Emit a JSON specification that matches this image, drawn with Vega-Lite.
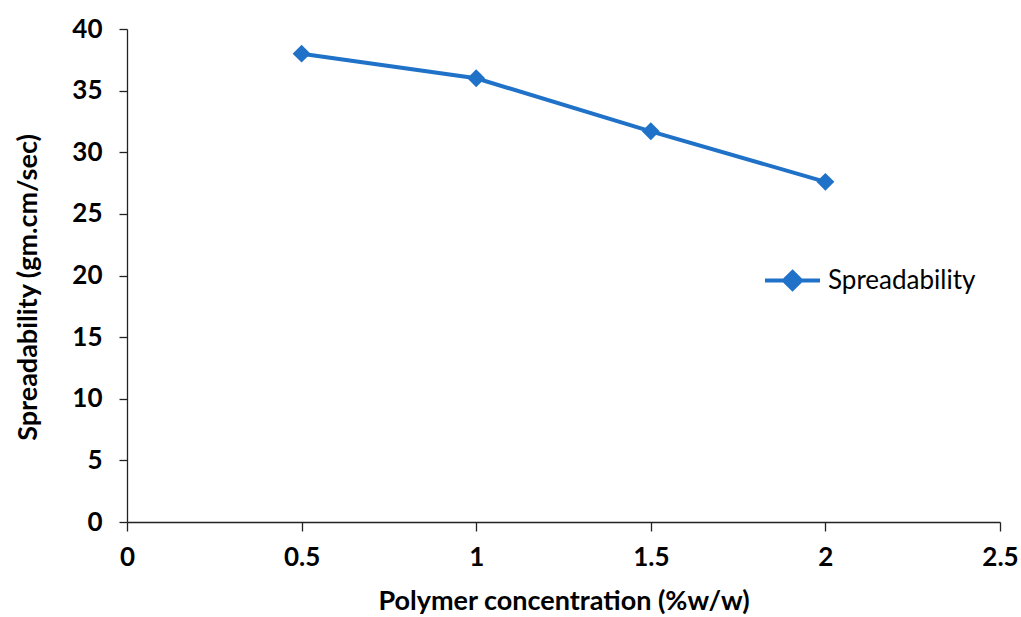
{
  "$schema": "https://vega.github.io/schema/vega-lite/v6.json",
  "width": 873,
  "height": 493,
  "autosize": {"type": "none"},
  "padding": {"left": 127, "top": 29, "right": 21, "bottom": 95},
  "background": "white",
  "config": {
    "view": {"stroke": null},
    "font": "Lato",
    "axis": {
      "grid": false,
      "domainColor": "#222222",
      "tickColor": "#222222",
      "domainWidth": 1.3,
      "tickWidth": 1.3,
      "labelFont": "Lato",
      "labelFontWeight": "bold",
      "labelFontSize": 26,
      "labelColor": "#000000",
      "titleFont": "Lato",
      "titleFontWeight": "bold",
      "titleFontSize": 27,
      "titleColor": "#000000"
    }
  },
  "data": {
    "values": [
      {"conc": 0.5, "spread": 38.0, "series": "Spreadability"},
      {"conc": 1.0, "spread": 36.0, "series": "Spreadability"},
      {"conc": 1.5, "spread": 31.7, "series": "Spreadability"},
      {"conc": 2.0, "spread": 27.6, "series": "Spreadability"}
    ]
  },
  "mark": {
    "type": "line",
    "strokeWidth": 4,
    "point": {"shape": "diamond", "size": 320, "filled": true, "opacity": 1}
  },
  "encoding": {
    "x": {
      "field": "conc",
      "type": "quantitative",
      "scale": {"domain": [0, 2.5], "nice": false},
      "axis": {
        "values": [0, 0.5, 1, 1.5, 2, 2.5],
        "format": "~g",
        "tickSize": 9,
        "labelPadding": 13,
        "titlePadding": 18,
        "labelFlush": false,
        "title": "Polymer concentration (%w/w)"
      }
    },
    "y": {
      "field": "spread",
      "type": "quantitative",
      "scale": {"domain": [0, 40], "nice": false},
      "axis": {
        "values": [0, 5, 10, 15, 20, 25, 30, 35, 40],
        "tickSize": 8,
        "labelPadding": 17,
        "titlePadding": 29,
        "titleY": 258,
        "labelFlush": false,
        "title": "Spreadability (gm.cm/sec)"
      }
    },
    "color": {
      "field": "series",
      "type": "nominal",
      "scale": {"range": ["#1F72C7"]},
      "legend": {
        "title": null,
        "orient": "none",
        "legendX": 636,
        "legendY": 222,
        "symbolType": "M-1,0H1M0,-0.31L0.31,0L0,0.31L-0.31,0Z",
        "symbolSize": 3025,
        "symbolStrokeWidth": 4,
        "labelFont": "Lato",
        "labelFontSize": 26,
        "labelColor": "#000000",
        "labelOffset": 6,
        "encode": {
          "symbols": {
            "update": {
              "fill": {"value": "#1F72C7"},
              "stroke": {"value": "#1F72C7"},
              "opacity": {"value": 1}
            }
          }
        }
      }
    }
  }
}
